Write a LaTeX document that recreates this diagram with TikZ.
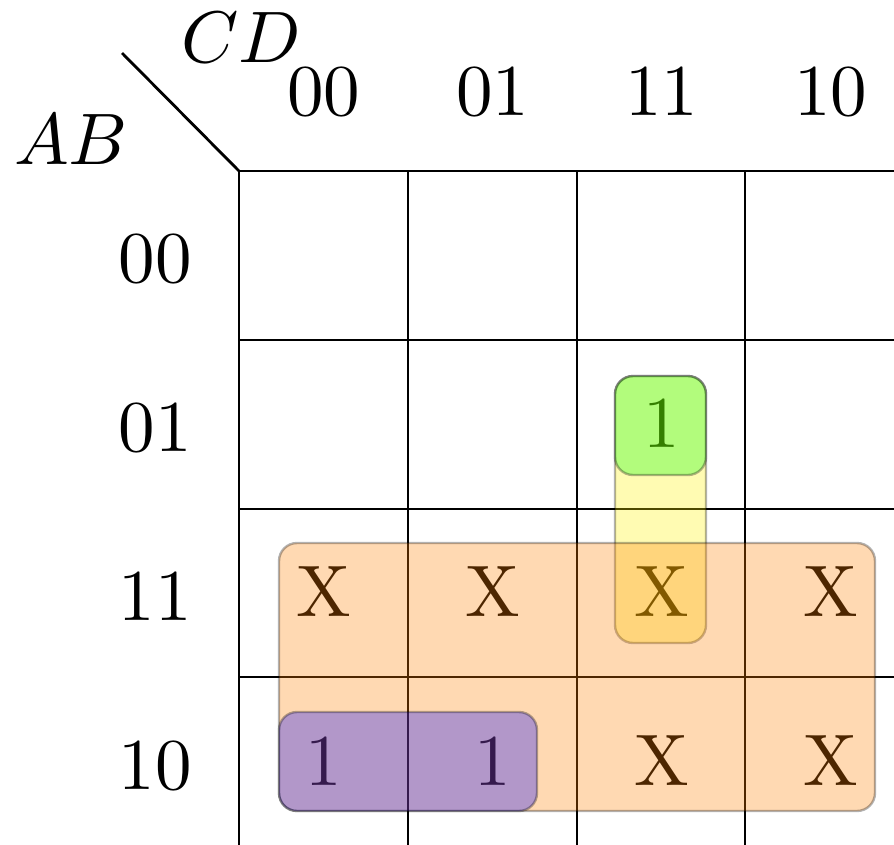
\RequirePackage{fix-cm}
\documentclass[tikz,border=0pt]{standalone}
\DeclareFontShape{TU}{lmr}{m}{n}{<-> "[lmroman10-regular]:+tlig;"}{}
\DeclareFontShape{OML}{cmm}{m}{it}{<-> cmmi10}{\skewchar\font'177}
\begin{document}
\begin{tikzpicture}[x=1pt,y=-1pt,line width=2.8pt,
  font=\fontsize{73}{88}\selectfont,
  gridline/.style={line width=2.8pt,line cap=rect},
  grp/.style={rounded corners=18pt,draw=black,opacity=0.3,line width=2.4pt},
  lbl/.style={anchor=base,inner sep=0pt},
  cell/.style={inner sep=0pt}]
\useasboundingbox (0,0) rectangle (894,844);
\clip (0,0) rectangle (894,844);
% grid
\foreach \x in {239,408,577,745,914} \draw[gridline] (\x,171) -- (\x,860);
\foreach \y in {171,340,509,677,846.5} \draw[gridline] (239,\y) -- (930,\y);
% diagonal
\coordinate (corner) at (239,171);
\coordinate (diagend) at (122,53);
\draw (diagend) -- (corner);
% variable labels
\node[lbl] (cd) at (241,62) {$CD$};
\node[lbl] (ab) at (71,164) {$AB$};
% column labels
\node[lbl] (c0) at (323.5,115) {00};
\node[lbl] (c1) at (492.5,115) {01};
\node[lbl] (c2) at (661.5,115) {11};
\node[lbl] (c3) at (830.5,115) {10};
% row labels
\node[lbl] (r0) at (155,282) {00};
\node[lbl] (r1) at (155,451) {01};
\node[lbl] (r2) at (155,620) {11};
\node[lbl] (r3) at (155,789) {10};
% cell contents
\node[cell] (m12) at (661.5,423) {1};
\node[cell] (m20) at (323.5,592) {X};
\node[cell] (m21) at (492.5,592) {X};
\node[cell] (m22) at (661.5,592) {X};
\node[cell] (m23) at (830.5,592) {X};
\node[cell] (m30) at (323.5,761) {1};
\node[cell] (m31) at (492.5,761) {1};
\node[cell] (m32) at (661.5,761) {X};
\node[cell] (m33) at (830.5,761) {X};
% groups
\draw[grp,fill=yellow] (615,376) rectangle (706,643);
\draw[grp,fill=orange] (279,543) rectangle (875,811);
\draw[grp,fill=green] (615,376) rectangle (706,475);
\draw[grp,fill=blue] (279,712) rectangle (537,811);
\end{tikzpicture}
\end{document}
